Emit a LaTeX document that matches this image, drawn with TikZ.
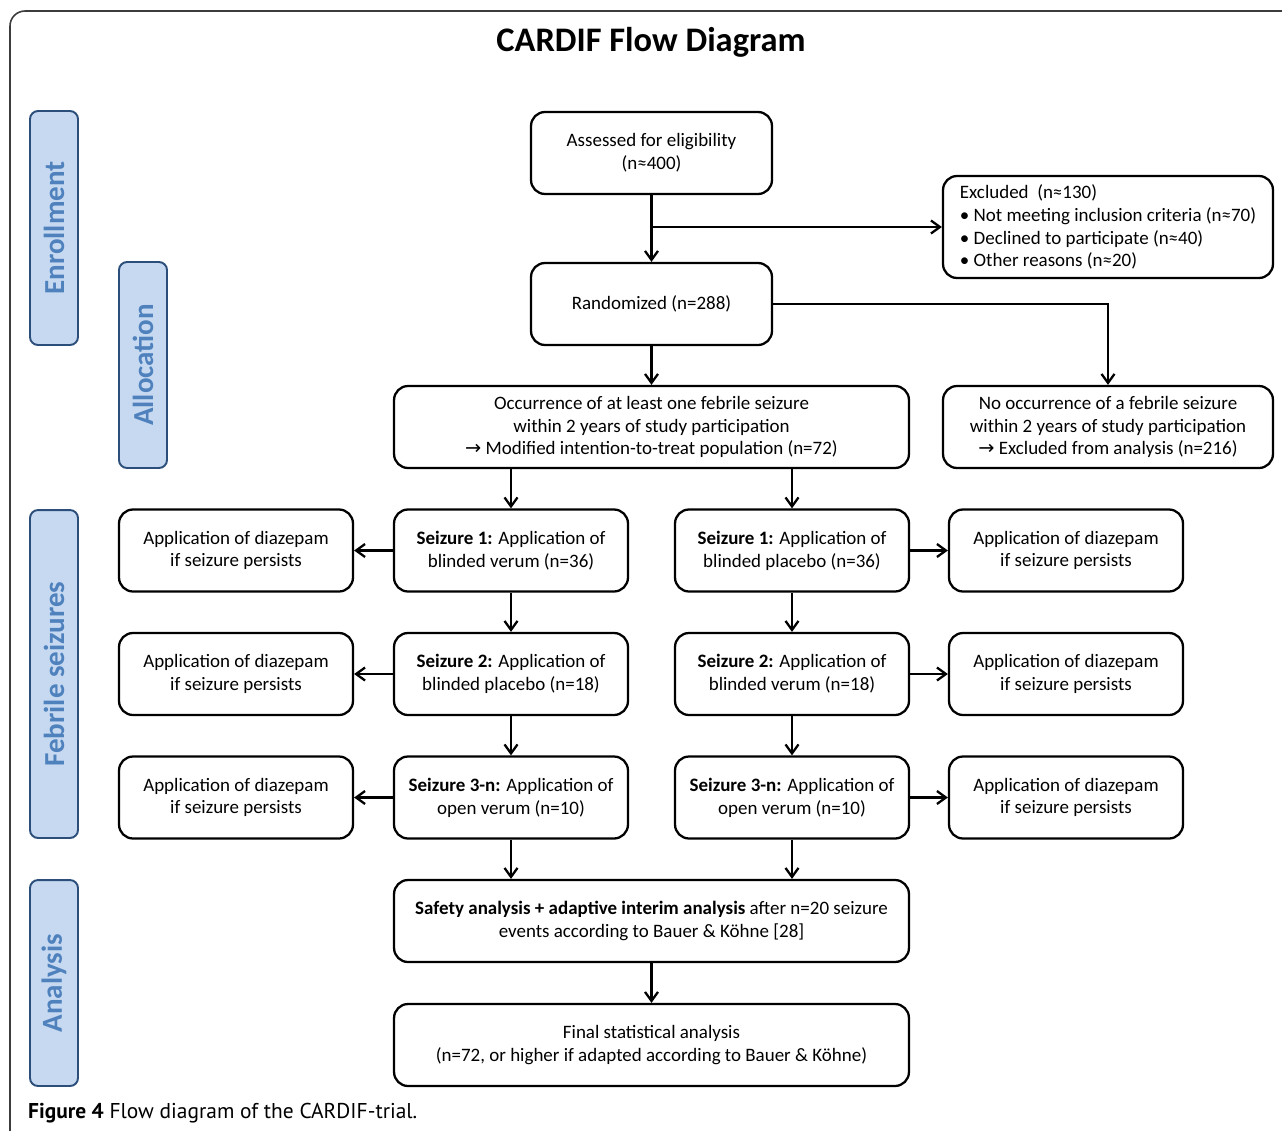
\documentclass[tikz,border=0pt]{standalone}
\usepackage{fontspec}
\setmainfont{Carlito}
\newfontfamily\capfont{PT Sans}
\newfontfamily\arrfont{DejaVu Sans}
\usetikzlibrary{arrows.meta}

\definecolor{phasefill}{RGB}{198,217,241}
\definecolor{phasedraw}{RGB}{44,78,122}
\definecolor{phasetext}{RGB}{79,129,189}
\definecolor{framegray}{RGB}{60,60,60}

\newcommand{\toarr}{{\arrfont\fontsize{11}{13}\selectfont →}}

\begin{document}
\begin{tikzpicture}[x=0.02cm,y=-0.02cm,
    >={Straight Barb[length=1.8mm,width=2.6mm]},
    box/.style={draw,line width=1.3pt,rounded corners=0.28cm,align=center,minimum height=1.64cm,inner sep=2pt,font=\fontsize{10.8}{13}\selectfont},
    widebox/.style={box,minimum width=10.3cm},
    midbox/.style={box,minimum width=4.82cm},
    smallbox/.style={box,minimum width=4.68cm},
    sidebox/.style={box,minimum width=6.6cm},
    phasebox/.style={draw=phasedraw,fill=phasefill,line width=1.1pt,rounded corners=0.16cm,rotate=90,minimum height=0.96cm,text=phasetext,font=\fontsize{16.5}{18}\selectfont\bfseries},
    link/.style={->,line width=1.3pt}]
    \useasboundingbox (0,0) rectangle (1282,1130);
    \draw[framegray,line width=0.9pt,rounded corners=0.3cm] (10,1140) -- (10,11) -- (1290,11);

    \node[font=\fontsize{19.6}{22}\selectfont\bfseries] (title) at (651,42) {CARDIF Flow Diagram};

    % phases
    \node[phasebox,minimum width=4.68cm] (enrol) at (54,228) {Enrollment};
    \node[phasebox,minimum width=4.12cm] (alloc) at (143,365) {Allocation};
    \node[phasebox,minimum width=6.56cm] (febrile) at (54,674) {Febrile seizures};
    \node[phasebox,minimum width=4.12cm] (analys) at (54,983) {Analysis};

    % enrollment and allocation
    \node[midbox] (assess) at (651.5,153) {Assessed for eligibility\\(n≈400)};
    \node[sidebox,minimum height=2.04cm,align=left] (excl) at (1108,227) {Excluded~~(n≈130)\\• Not meeting inclusion criteria (n≈70)\\• Declined to participate (n≈40)\\• Other reasons (n≈20)};
    \node[midbox] (rand) at (651.5,304) {Randomized (n=288)};
    \node[widebox] (occ) at (651.5,427) {Occurrence of at least one febrile seizure\\within 2 years of study participation\\\toarr{} Modified intention-to-treat population (n=72)};
    \node[sidebox] (noocc) at (1108,427) {No occurrence of a febrile seizure\\within 2 years of study participation\\\toarr{} Excluded from analysis (n=216)};

    % seizures
    \node[smallbox] (v1) at (511,550.5) {\textbf{Seizure 1:} Application of\\blinded verum (n=36)};
    \node[smallbox] (p1) at (792,550.5) {\textbf{Seizure 1:} Application of\\blinded placebo (n=36)};
    \node[smallbox] (v2) at (511,674) {\textbf{Seizure 2:} Application of\\blinded placebo (n=18)};
    \node[smallbox] (p2) at (792,674) {\textbf{Seizure 2:} Application of\\blinded verum (n=18)};
    \node[smallbox] (v3) at (511,797.5) {\textbf{Seizure 3-n:} Application of\\open verum (n=10)};
    \node[smallbox] (p3) at (792,797.5) {\textbf{Seizure 3-n:} Application of\\open verum (n=10)};
    \node[smallbox] (dl1) at (236,550.5) {Application of diazepam\\if seizure persists};
    \node[smallbox] (dl2) at (236,674) {Application of diazepam\\if seizure persists};
    \node[smallbox] (dl3) at (236,797.5) {Application of diazepam\\if seizure persists};
    \node[smallbox] (dr1) at (1066,550.5) {Application of diazepam\\if seizure persists};
    \node[smallbox] (dr2) at (1066,674) {Application of diazepam\\if seizure persists};
    \node[smallbox] (dr3) at (1066,797.5) {Application of diazepam\\if seizure persists};

    % analysis
    \node[widebox] (safe) at (651.5,921) {\textbf{Safety analysis + adaptive interim analysis} after n=20 seizure\\events according to Bauer \& Köhne [28]};
    \node[widebox] (final) at (651.5,1045) {Final statistical analysis\\(n=72, or higher if adapted according to Bauer \& Köhne)};

    \node[anchor=west,font=\capfont\fontsize{12.2}{14}\selectfont] (cap) at (22,1113) {\textbf{Figure 4} Flow diagram of the CARDIF-trial.};

    % connectors
    \draw[link] (assess) -- (rand);
    \draw[link] (assess.south |- excl.west) -- (excl.west);
    \draw[link] (rand.east) -| (noocc.north);
    \draw[link] (rand) -- (occ);
    \draw[link] (v1.north |- occ.south) -- (v1.north);
    \draw[link] (p1.north |- occ.south) -- (p1.north);
    \draw[link] (v1) -- (v2);
    \draw[link] (v2) -- (v3);
    \draw[link] (p1) -- (p2);
    \draw[link] (p2) -- (p3);
    \draw[link] (v1) -- (dl1);
    \draw[link] (v2) -- (dl2);
    \draw[link] (v3) -- (dl3);
    \draw[link] (p1) -- (dr1);
    \draw[link] (p2) -- (dr2);
    \draw[link] (p3) -- (dr3);
    \draw[link] (v3.south) -- (v3.south |- safe.north);
    \draw[link] (p3.south) -- (p3.south |- safe.north);
    \draw[link] (safe) -- (final);
\end{tikzpicture}
\end{document}
